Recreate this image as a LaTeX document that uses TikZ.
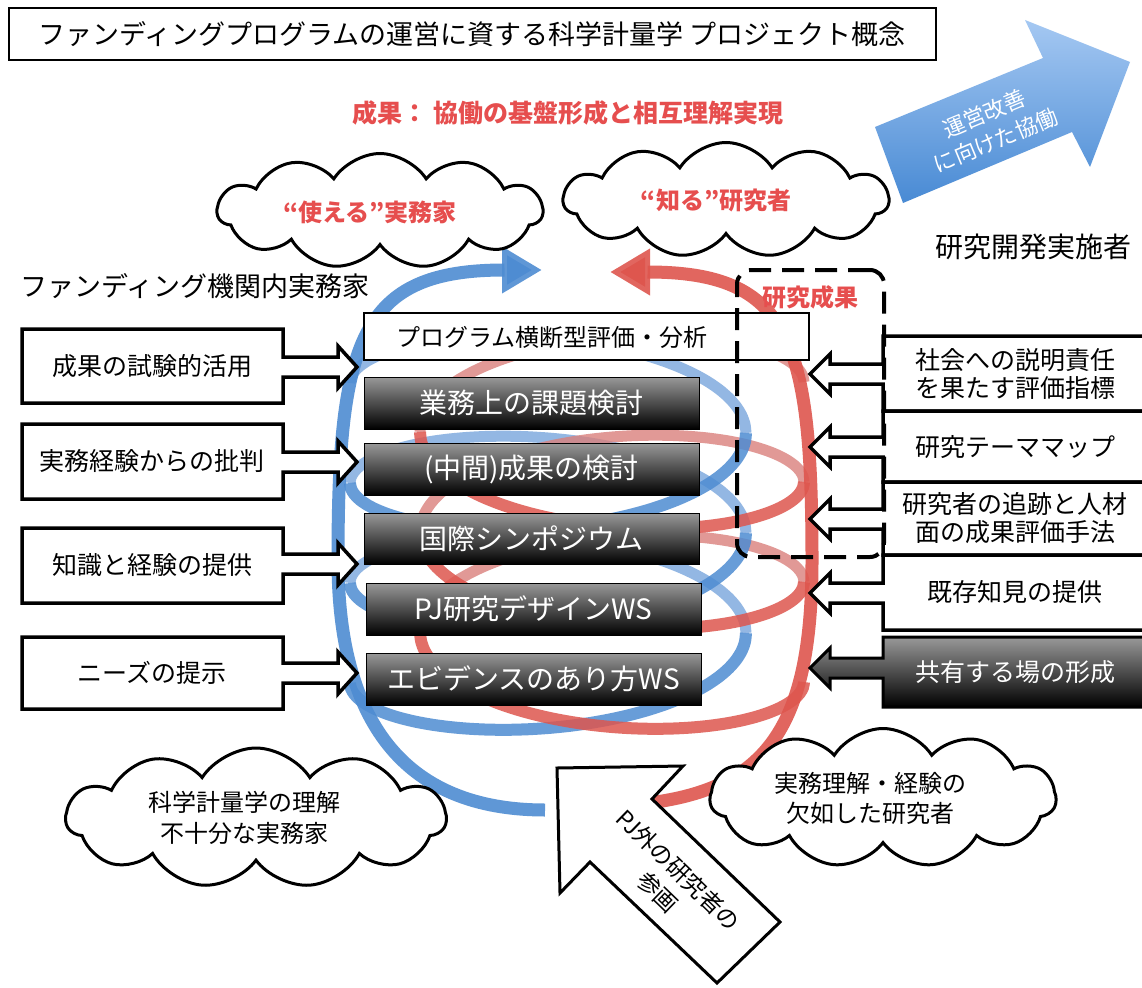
\documentclass[tikz,border=0pt]{standalone}
\usepackage{fontspec}
\setmainfont{Noto Sans CJK JP}
\usetikzlibrary{shapes.symbols,arrows.meta}
\definecolor{redtxt}{RGB}{230,78,78}
\definecolor{blueband}{RGB}{78,140,210}
\definecolor{bluebandback}{RGB}{120,165,220}
\definecolor{redband}{RGB}{222,86,78}
\definecolor{redbandback}{RGB}{218,128,124}
\definecolor{arrowblueA}{RGB}{165,200,242}
\definecolor{arrowblueB}{RGB}{72,138,212}
\newcommand{\lcall}[3]{\draw[callout] (22,#1) -- (283,#1) -- (283,{#3-10}) -- (338,{#3-10}) -- (338,{#3-21}) -- (357,#3) -- (338,{#3+21}) -- (338,{#3+10}) -- (283,{#3+10}) -- (283,#2) -- (22,#2) -- cycle;}
\newcommand{\rcall}[4]{\draw[#4] (1150,#1) -- (883,#1) -- (883,{#3-10}) -- (830,{#3-10}) -- (830,{#3-20}) -- (810,#3) -- (830,{#3+20}) -- (830,{#3+10}) -- (883,{#3+10}) -- (883,#2) -- (1150,#2) -- cycle;}
\begin{document}
\begin{tikzpicture}[x=1pt,y=-1pt,
  fs/.style 2 args={font=\fontsize{#1}{#2}\selectfont},
  redb/.style={text=redtxt,font=\bfseries\fontsize{#1}{30}\selectfont},
  callout/.style={draw=black,line width=3.5pt,fill=white},
  darkcall/.style={draw=black,line width=3pt,top color=black!40,middle color=black!75,bottom color=black},
  darkbox/.style={draw=black,line width=1pt,top color=black!40,middle color=black!75,bottom color=black,
    inner sep=0pt,minimum width=335pt,minimum height=52pt,text=white,font=\fontsize{28}{32}\selectfont},
  cloudshape/.style={cloud,cloud puffs=11,cloud puff arc=115,cloud ignores aspect,draw=black,line width=3pt,fill=white},
  bfront/.style={draw=blueband,line width=12pt,draw opacity=0.85},
  bback/.style={draw=bluebandback,line width=11pt,draw opacity=0.8},
  rfront/.style={draw=redband,line width=12pt,draw opacity=0.85},
  rback/.style={draw=redbandback,line width=11pt,draw opacity=0.8}]
\useasboundingbox (0,0) rectangle (1142,987);
\fill[white] (0,0) rectangle (1142,987);

% title
\node[draw,line width=2pt,minimum width=927pt,minimum height=52pt] (titlebox) at (472.5,34) {};
\node[fs={27}{32}] (title) at (472,34) {ファンディングプログラムの運営に資する科学計量学 プロジェクト概念};
\node[redb=25] (result) at (568,113) {成果： 協働の基盤形成と相互理解実現};

% big blue arrow
\path[top color=arrowblueA,bottom color=arrowblueB] (875,127) -- (1043,58) -- (1025,20) -- (1130,62) -- (1090,167) -- (1072,132) -- (903,203) -- cycle;
\node[fs={22}{29},rotate=22.5,text=white,align=center] (bluetext) at (990,127) {運営改善\\に向けた協働};

% helices: back halves first, then front halves
\foreach \a in {360,720,1080}
  \draw[bback] plot[domain=\a:\a+180,samples=31,smooth] ({548+198*cos(\x)},{733-\x/3.6-70*sin(\x)});
\foreach \a in {180,540,900}
  \draw[rback] plot[domain=\a:\a+180,samples=31,smooth] ({612+192*cos(\x)},{682-\x/3.6+70*sin(\x)});
\foreach \a in {180,540,900}
  \draw[bfront] plot[domain=\a:\a+180,samples=31,smooth] ({548+198*cos(\x)},{733-\x/3.6-70*sin(\x)});
\foreach \a in {0,360,720}
  \draw[rfront] plot[domain=\a:\a+180,samples=31,smooth] ({612+192*cos(\x)},{682-\x/3.6+70*sin(\x)});
\draw[draw=blueband,line width=13pt,draw opacity=0.9,-{Triangle[width=44pt,length=40pt]}]
  (545,810) .. controls (420,810) and (338,740) .. (338,560) .. controls (338,340) and (360,270) .. (542,270);
\draw[draw=redband,line width=13pt,draw opacity=0.9,-{Triangle[width=44pt,length=40pt]}]
  (610,806) .. controls (760,800) and (812,740) .. (812,560) .. controls (812,340) and (790,272) .. (610,272);

% centre boxes
\node[draw,line width=1.5pt,fill=white,minimum width=445pt,minimum height=47pt] (wbox) at (586.5,336.5) {};
\node[fs={24}{28}] (wtext) at (552,337) {プログラム横断型評価・分析};
\node[darkbox] (b1) at (531.5,403) {業務上の課題検討};
\node[darkbox] (b2) at (531.5,469) {(中間)成果の検討};
\node[darkbox,minimum height=51pt] (b3) at (531.5,538.5) {国際シンポジウム};
\node[darkbox] (b4) at (533.5,609) {PJ研究デザインWS};
\node[darkbox] (b5) at (533.5,679) {エビデンスのあり方WS};

% left callouts
\node[fs={27}{32}] (lhead) at (195,286) {ファンディング機関内実務家};
\lcall{329}{403}{367}
\lcall{424}{499}{462}
\lcall{528}{603}{564}
\lcall{637}{709}{673}
\node[fs={25}{29}] (l1) at (152,366) {成果の試験的活用};
\node[fs={25}{29}] (l2) at (152,461.5) {実務経験からの批判};
\node[fs={25}{29}] (l3) at (152,565.5) {知識と経験の提供};
\node[fs={25}{29}] (l4) at (152,673) {ニーズの提示};

% right callouts
\node[fs={28}{32}] (rhead) at (1033,247) {研究開発実施者};
\rcall{336}{411}{374}{callout}
\rcall{411}{482}{447}{callout}
\rcall{482}{555}{519}{callout}
\rcall{555}{630}{593}{callout}
\rcall{637}{707}{668}{darkcall}
\node[fs={25}{28},align=center] (r1) at (1015,373.5) {社会への説明責任\\を果たす評価指標};
\node[fs={25}{28}] (r2) at (1015,447) {研究テーママップ};
\node[fs={25}{28},align=center] (r3) at (1015,518.5) {研究者の追跡と人材\\面の成果評価手法};
\node[fs={25}{28}] (r4) at (1015,592.5) {既存知見の提供};
\node[fs={25}{28},text=white] (r5) at (1015,672) {共有する場の形成};

% dashed frame
\node[draw,line width=4pt,dash pattern=on 22pt off 11pt,rounded corners=14pt,minimum width=147pt,minimum height=287pt] (frame) at (810.5,413.5) {};
\node[redb=24] (frametext) at (810,297) {研究成果};

% clouds
\node[cloudshape,minimum width=325pt,minimum height=115pt] (c1) at (380,211) {};
\node[redb=24] (c1t) at (370,212) {“使える”実務家};
\node[cloudshape,minimum width=325pt,minimum height=115pt] (c2) at (726,200) {};
\node[redb=24] (c2t) at (716,200) {“知る”研究者};
\node[cloudshape,minimum width=380pt,minimum height=140pt] (c3) at (256,818) {};
\node[fs={24}{31},align=center] (c3t) at (244,818) {科学計量学の理解\\不十分な実務家};
\node[cloudshape,minimum width=346pt,minimum height=139pt] (c4) at (883,798) {};
\node[fs={24}{30},align=center] (c4t) at (870,798) {実務理解・経験の\\欠如した研究者};

% PJ arrow
\draw[line width=3pt,fill=white] (557,768) -- (683,766) -- (652,799) -- (780,922) -- (717,983) -- (590,862) -- (560,893) -- cycle;
\node[fs={23}{30},rotate=-44,align=center] (pjtext) at (668,881) {PJ外の研究者の\\参画};
\end{tikzpicture}
\end{document}
